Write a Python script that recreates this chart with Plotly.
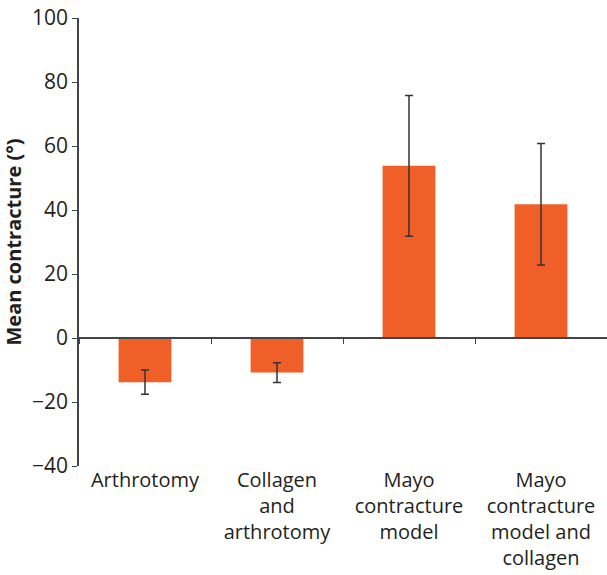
import plotly.graph_objects as go

categories = ["Arthrotomy", "Collagen<br>and<br>arthrotomy", "Mayo<br>contracture<br>model",
              "Mayo<br>contracture<br>model and<br>collagen"]
means = [-13.8, -10.8, 53.8, 41.8]
errors = [3.8, 3.1, 22.0, 19.0]
y_ticks = [-40, -20, 0, 20, 40, 60, 80, 100]

FONT = "Open Sans"
fig = go.Figure()
fig.add_trace(go.Bar(
    x=categories, y=means, width=0.4,
    marker=dict(color="#F05F28", line=dict(width=0)),
    error_y=dict(type="data", array=errors, visible=True, color="#333333",
                 thickness=1.5, width=4),
    showlegend=False,
))
# invisible trace for the axis drawn at y = 0
fig.add_trace(go.Scatter(x=categories, y=[None] * 4, xaxis="x2", mode="markers",
                         marker=dict(opacity=0), showlegend=False, hoverinfo="skip"))

fig.update_layout(
    width=607, height=575,
    margin=dict(l=79, r=0, t=18, b=109),
    plot_bgcolor="white", paper_bgcolor="white",
    font=dict(family=FONT, size=20, color="#231f20"),
    bargap=0.6,
    xaxis=dict(type="category", range=[-0.5, 3.5], showline=False, ticks="",
               showgrid=False, zeroline=False, tickfont=dict(size=20),
               automargin=False),
    xaxis2=dict(type="category", range=[-0.5, 3.5], overlaying="x", anchor="free",
                position=40 / 140, side="bottom", showline=True, linecolor="#444444",
                linewidth=1.5, ticks="outside", ticklen=5, tickwidth=1.2,
                tickcolor="#444444", tickson="boundaries", showticklabels=False,
                showgrid=False, zeroline=False, automargin=False),
    yaxis=dict(range=[-40, 100], tickvals=y_ticks, showline=True, linecolor="#444444",
               linewidth=1.5, ticks="outside", ticklen=5, tickwidth=1.2,
               tickcolor="#444444", showgrid=False, zeroline=False,
               tickfont=dict(size=21), ticklabeloverflow="allow", automargin=False,
               title=dict(text="<b>Mean contracture (°)</b>", font=dict(size=20),
                          standoff=11)),
)
fig.write_html("out.html", config={"displayModeBar": False},
               post_script="document.body.style.margin='0';document.body.style.padding='0';")
